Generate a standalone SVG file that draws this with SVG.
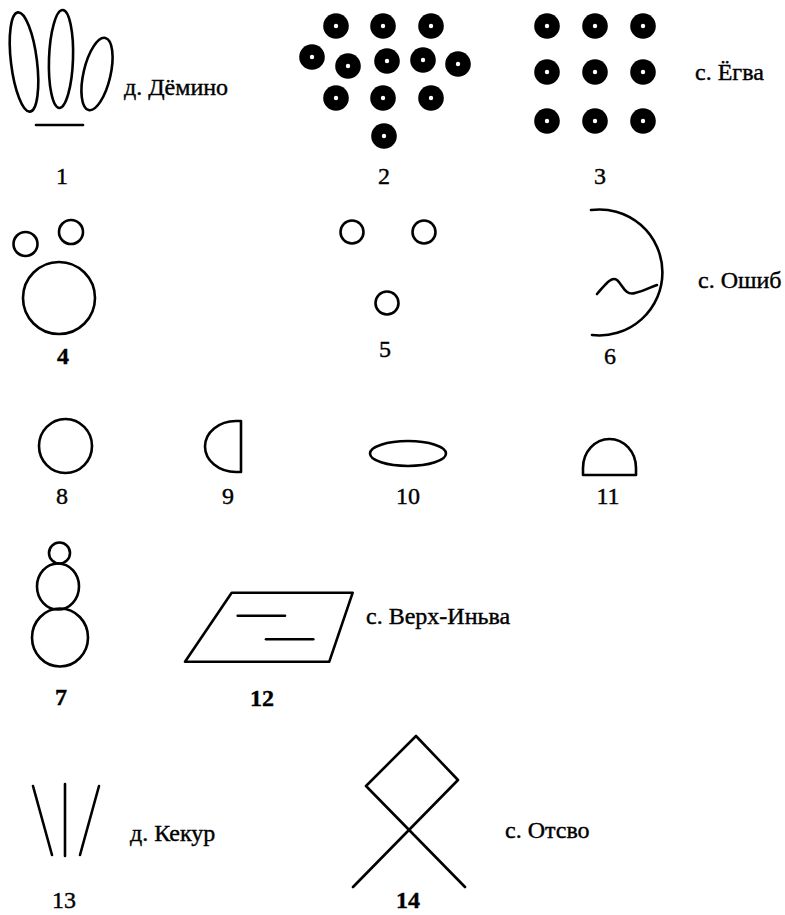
<svg xmlns="http://www.w3.org/2000/svg" xmlns:xlink="http://www.w3.org/1999/xlink" width="785" height="915" viewBox="0 0 785 915">
<style>
.s{fill:none;stroke:#000;stroke-width:2.6;stroke-linecap:round;stroke-linejoin:round}
.t{font-family:"Liberation Serif","Times New Roman",serif;font-size:24px;fill:#000;stroke:#000;stroke-width:0.4}
.n{font-family:"Liberation Serif","Times New Roman",serif;font-size:24px;fill:#000;stroke:#000;stroke-width:0.4;text-anchor:middle}
.b{font-weight:bold}
</style>
<defs>
<g id="dot"><circle r="12.8" fill="#000"/><circle r="2.2" fill="#fff"/></g>
</defs>
<rect width="785" height="915" fill="#fff"/>
<g id="fig1">
<ellipse class="s" cx="24" cy="62" rx="13" ry="50" transform="rotate(-7 24 62)"/>
<ellipse class="s" cx="61" cy="59" rx="12" ry="49" transform="rotate(2 61 59)"/>
<ellipse class="s" cx="97" cy="74" rx="13.5" ry="37" transform="rotate(13 97 74)"/>
<line class="s" x1="36" y1="125" x2="83" y2="125"/>
<text class="t" x="124" y="95">д. Дёмино</text>
<text class="n" x="62" y="184">1</text>
</g>
<g id="fig2">
<use xlink:href="#dot" x="336" y="26"/><use xlink:href="#dot" x="383" y="26"/><use xlink:href="#dot" x="431" y="26"/>
<use xlink:href="#dot" x="312" y="57"/><use xlink:href="#dot" x="348" y="66"/><use xlink:href="#dot" x="387" y="61"/><use xlink:href="#dot" x="423" y="60"/><use xlink:href="#dot" x="458" y="64"/>
<use xlink:href="#dot" x="336" y="98"/><use xlink:href="#dot" x="383" y="98"/><use xlink:href="#dot" x="431" y="98"/>
<use xlink:href="#dot" x="384" y="136"/>
<text class="n" x="384" y="184">2</text>
</g>
<g id="fig3">
<use xlink:href="#dot" x="547" y="26"/><use xlink:href="#dot" x="595" y="26"/><use xlink:href="#dot" x="643" y="26"/>
<use xlink:href="#dot" x="547" y="72"/><use xlink:href="#dot" x="595" y="72"/><use xlink:href="#dot" x="643" y="72"/>
<use xlink:href="#dot" x="547" y="121"/><use xlink:href="#dot" x="595" y="121"/><use xlink:href="#dot" x="643" y="121"/>
<text class="t" x="695" y="80">с. Ёгва</text>
<text class="n" x="600" y="184">3</text>
</g>
<g id="fig4">
<circle class="s" cx="25.5" cy="244" r="12"/>
<circle class="s" cx="71" cy="232" r="12"/>
<circle class="s" cx="59" cy="298" r="36"/>
<text class="n b" x="63" y="364">4</text>
</g>
<g id="fig5">
<circle class="s" cx="352" cy="232" r="11.5"/>
<circle class="s" cx="424" cy="232" r="11.5"/>
<circle class="s" cx="387" cy="303" r="11.5"/>
<text class="n" x="385" y="357">5</text>
</g>
<g id="fig6">
<path class="s" d="M591,210 A63,63 0 1 1 592,335"/>
<path class="s" d="M597,294 C605,285 611,276 617,280 C623,285 625,296 635,293 C645,291 650,287 657,285"/>
<text class="t" x="698" y="288">с. Ошиб</text>
<text class="n" x="610" y="364">6</text>
</g>
<g id="fig8">
<ellipse class="s" cx="65.5" cy="446" rx="26.5" ry="27"/>
<text class="n" x="62" y="504">8</text>
</g>
<g id="fig9">
<path class="s" d="M241,421 V472 H236 A31,25.5 0 0 1 236,421 Z"/>
<text class="n" x="228" y="504">9</text>
</g>
<g id="fig10">
<ellipse class="s" cx="408" cy="453.5" rx="38" ry="12.5"/>
<text class="n" x="408" y="504">10</text>
</g>
<g id="fig11">
<path class="s" d="M583,475 L583,468 A26.5,29 0 0 1 636,468 L636,475 Z"/>
<text class="n" x="608" y="504">11</text>
</g>
<g id="fig7">
<circle class="s" cx="59.5" cy="553" r="10.5"/>
<ellipse class="s" cx="58" cy="586.5" rx="21" ry="23"/>
<ellipse class="s" cx="60" cy="637.5" rx="28" ry="29"/>
<text class="n b" x="61" y="705">7</text>
</g>
<g id="fig12">
<polygon class="s" points="231.7,592.7 352.7,592.7 329.3,661.7 185,661.7"/>
<line class="s" x1="237.7" y1="615.7" x2="285" y2="615.7"/>
<line class="s" x1="266" y1="639.3" x2="313.3" y2="639.3"/>
<text class="t" x="366" y="624">с. Верх-Иньва</text>
<text class="n b" x="262" y="706">12</text>
</g>
<g id="fig13">
<line class="s" x1="33" y1="786" x2="52" y2="855"/>
<line class="s" x1="65" y1="784" x2="65" y2="856"/>
<line class="s" x1="99" y1="786" x2="80" y2="855"/>
<text class="t" x="130" y="841">д. Кекур</text>
<text class="n" x="64" y="908">13</text>
</g>
<g id="fig14">
<polyline class="s" points="353,887 458,780 416,736 366,786 465,887"/>
<text class="t" x="505" y="838">с. Отсво</text>
<text class="n b" x="408" y="908">14</text>
</g>
<g id="connectors"/>
</svg>
